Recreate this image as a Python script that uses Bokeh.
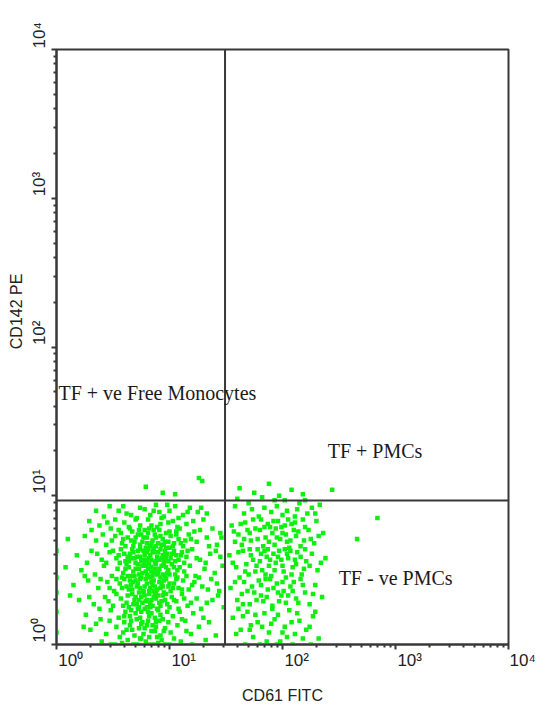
import math
from bokeh.plotting import figure
from bokeh.models import Range1d, FixedTicker, Span, Label, ColumnDataSource
from bokeh.embed import file_html
from bokeh.resources import INLINE

# ---------------- data (log10 of fluorescence) ----------------
x_label = "CD61 FITC"
y_label = "CD142 PE"
decades = [0, 1, 2, 3, 4]
tick_text = ["10\u2070", "10\u00b9", "10\u00b2", "10\u00b3", "10\u2074"]
gate_x = 31.0     # CD61 FITC gate
gate_y = 9.3      # CD142 PE gate
quadrant_names = ["TF + ve Free Monocytes", "TF + PMCs", "TF - ve PMCs"]
quadrant_pos = [(1.04, 49.0), (251.0, 19.9), (314.0, 2.78)]

# lower-left population (free monocytes, TF-negative)
lower_left = [
    (0.62,0.88),(0.78,0.91),(0.95,0.86),(1.05,0.93),(0.71,0.85),(0.88,0.94),(1.12,0.87),(0.55,0.90),(1.25,0.89),(0.83,0.87),(1.00,0.90),(0.42,0.86),(1.18,0.92),
    (0.48,0.78),(0.60,0.82),(0.67,0.76),(0.74,0.80),(0.81,0.84),(0.86,0.77),(0.92,0.81),(0.97,0.75),(1.03,0.83),(1.09,0.78),(1.15,0.81),(1.22,0.76),(1.30,0.84),
    (0.38,0.80),(0.70,0.84),(0.89,0.79),(0.99,0.82),(1.06,0.76),(0.78,0.77),(0.64,0.79),(1.38,0.78),(0.29,0.83),(0.93,0.85),(0.84,0.80),
    (0.35,0.70),(0.44,0.67),(0.52,0.73),(0.58,0.68),(0.63,0.72),(0.68,0.66),(0.72,0.74),(0.76,0.69),(0.80,0.72),(0.83,0.66),(0.87,0.74),(0.90,0.68),(0.94,0.71),
    (0.97,0.65),(1.01,0.73),(1.04,0.68),(1.08,0.71),(1.12,0.66),(1.17,0.74),(1.24,0.69),(1.33,0.72),(1.42,0.67),(0.25,0.73),(0.66,0.70),(0.74,0.67),(0.85,0.70),
    (0.92,0.73),(0.99,0.69),(1.06,0.74),(0.79,0.65),(0.88,0.66),(0.57,0.75),(1.14,0.70),(0.70,0.72),(0.95,0.67),(0.81,0.75),
    (0.18,0.60),(0.31,0.63),(0.40,0.57),(0.47,0.62),(0.53,0.58),(0.57,0.64),(0.61,0.56),(0.65,0.61),(0.69,0.58),(0.72,0.63),(0.75,0.56),(0.78,0.60),(0.81,0.64),
    (0.84,0.57),(0.86,0.62),(0.89,0.59),(0.92,0.64),(0.95,0.56),(0.98,0.61),(1.01,0.58),(1.04,0.63),(1.08,0.57),(1.11,0.62),(1.15,0.59),(1.20,0.64),(1.27,0.57),
    (1.36,0.61),(1.45,0.59),(0.63,0.59),(0.70,0.55),(0.77,0.63),(0.83,0.60),(0.88,0.56),(0.94,0.60),(1.00,0.65),(1.06,0.60),(0.74,0.59),(0.91,0.57),(0.80,0.57),
    (0.86,0.65),(0.97,0.58),(1.13,0.55),(0.67,0.64),(0.55,0.60),
    (0.22,0.50),(0.34,0.47),(0.42,0.53),(0.49,0.46),(0.54,0.51),(0.59,0.48),(0.62,0.54),(0.66,0.46),(0.70,0.51),(0.73,0.47),(0.76,0.53),(0.79,0.49),(0.82,0.54),
    (0.85,0.46),(0.87,0.51),(0.90,0.48),(0.93,0.53),(0.96,0.46),(0.99,0.50),(1.02,0.54),(1.05,0.47),(1.09,0.52),(1.13,0.49),(1.18,0.53),(1.23,0.46),(1.31,0.51),
    (1.40,0.48),(1.47,0.53),(0.68,0.49),(0.75,0.45),(0.81,0.51),(0.84,0.49),(0.88,0.54),(0.92,0.45),(0.97,0.52),(1.00,0.47),(0.64,0.52),(0.78,0.55),(0.86,0.48),
    (0.95,0.54),(0.72,0.54),(1.07,0.50),(0.58,0.45),(0.83,0.45),
    (0.15,0.40),(0.28,0.43),(0.37,0.38),(0.45,0.42),(0.51,0.36),(0.56,0.41),(0.60,0.44),(0.64,0.37),(0.68,0.42),(0.71,0.39),(0.74,0.44),(0.77,0.36),(0.80,0.41),
    (0.83,0.38),(0.86,0.43),(0.89,0.37),(0.91,0.42),(0.94,0.39),(0.97,0.44),(1.01,0.36),(1.04,0.41),(1.08,0.38),(1.12,0.43),(1.17,0.37),(1.22,0.42),(1.29,0.39),
    (1.37,0.44),(1.44,0.36),(0.66,0.40),(0.73,0.35),(0.79,0.44),(0.85,0.40),(0.88,0.35),(0.93,0.41),(0.99,0.39),(0.70,0.43),(0.82,0.36),(0.95,0.35),(0.62,0.39),
    (1.06,0.44),
    (0.20,0.30),(0.33,0.27),(0.43,0.32),(0.50,0.26),(0.57,0.31),(0.62,0.28),(0.67,0.34),(0.71,0.27),(0.75,0.32),(0.79,0.29),(0.82,0.34),(0.85,0.26),(0.88,0.31),
    (0.91,0.28),(0.94,0.33),(0.98,0.27),(1.02,0.32),(1.06,0.29),(1.11,0.34),(1.16,0.26),(1.24,0.31),(1.33,0.28),(1.43,0.33),(0.73,0.30),(0.80,0.25),(0.87,0.34),
    (0.96,0.30),(0.64,0.25),(0.84,0.30),(0.77,0.35),(0.69,0.30),(0.92,0.26),
    (0.26,0.20),(0.39,0.17),(0.48,0.23),(0.55,0.18),(0.61,0.22),(0.66,0.16),(0.70,0.21),(0.74,0.18),(0.78,0.24),(0.81,0.16),(0.84,0.21),(0.87,0.18),(0.90,0.23),
    (0.94,0.17),(0.98,0.22),(1.03,0.19),(1.08,0.24),(1.14,0.16),(1.21,0.21),(1.30,0.18),(0.76,0.15),(0.83,0.25),(0.72,0.24),(0.92,0.20),(0.60,0.15),(0.88,0.15),
    (0.30,0.10),(0.44,0.07),(0.53,0.12),(0.59,0.08),(0.65,0.13),(0.69,0.06),(0.73,0.11),(0.77,0.07),(0.80,0.13),(0.84,0.09),(0.88,0.12),(0.92,0.06),(0.96,0.11),
    (1.01,0.08),(1.07,0.13),(1.15,0.09),(1.26,0.12),(0.82,0.05),(0.75,0.14),(0.62,0.10),
    (0.40,0.02),(0.52,0.00),(0.63,0.03),(0.71,0.00),(0.79,0.02),(0.86,0.00),(0.93,0.03),(1.00,0.00),(1.10,0.02),(0.58,0.01),(0.74,0.04),(0.90,0.01),(1.20,0.00),
    (0.00,0.45),(0.00,0.22),(0.00,0.63),(0.00,0.08),(0.00,0.35),
    (0.08,0.52),(0.12,0.33),(0.10,0.71),(0.35,0.90),(0.47,0.93),(1.48,0.25),(1.46,0.72),(1.35,0.15),(1.41,0.06),(1.28,0.92),(0.24,0.12),
    (0.79,1.06),(1.26,1.12),(1.29,1.10),(0.94,1.02),(1.05,1.01),
]
lower_left_b = [
    (0.52,0.84),(0.66,0.87),(0.74,0.92),(0.91,0.89),(0.98,0.94),(1.08,0.85),(1.16,0.89),(1.33,0.88),(0.59,0.93),(0.86,0.90),(1.21,0.83),(0.45,0.82),
    (0.41,0.74),(0.49,0.70),(0.55,0.77),(0.61,0.66),(0.65,0.78),(0.69,0.69),(0.73,0.77),(0.77,0.72),(0.82,0.78),(0.84,0.68),(0.88,0.72),(0.91,0.77),(0.96,0.69),
    (1.00,0.76),(1.03,0.66),(1.07,0.79),(1.10,0.68),(1.19,0.71),(1.27,0.77),(1.35,0.66),(1.45,0.75),(0.31,0.77),(0.59,0.71),(0.80,0.68),(0.93,0.67),(0.75,0.74),
    (0.27,0.55),(0.36,0.61),(0.44,0.55),(0.50,0.63),(0.56,0.55),(0.60,0.61),(0.64,0.56),(0.68,0.62),(0.71,0.59),(0.74,0.64),(0.77,0.57),(0.80,0.62),(0.82,0.58),
    (0.85,0.63),(0.87,0.55),(0.90,0.62),(0.93,0.58),(0.96,0.63),(0.99,0.56),(1.02,0.61),(1.05,0.56),(1.10,0.60),(1.16,0.63),(1.24,0.58),(1.32,0.55),(1.41,0.63),
    (0.66,0.58),(0.79,0.53),(0.84,0.52),(0.91,0.51),(0.73,0.51),(0.96,0.59),(0.61,0.51),(1.04,0.52),
    (0.25,0.46),(0.39,0.44),(0.47,0.38),(0.53,0.44),(0.58,0.38),(0.63,0.46),(0.67,0.37),(0.69,0.46),(0.72,0.41),(0.76,0.48),(0.78,0.39),(0.81,0.46),(0.84,0.42),
    (0.87,0.39),(0.89,0.47),(0.92,0.38),(0.95,0.43),(0.98,0.48),(1.00,0.41),(1.03,0.38),(1.07,0.45),(1.11,0.37),(1.15,0.46),(1.20,0.40),(1.26,0.45),(1.34,0.37),
    (1.42,0.41),(0.74,0.38),(0.86,0.36),(0.80,0.47),(0.65,0.43),(0.94,0.47),
    (0.29,0.32),(0.38,0.24),(0.46,0.29),(0.53,0.34),(0.59,0.26),(0.63,0.33),(0.66,0.23),(0.70,0.32),(0.73,0.25),(0.76,0.28),(0.78,0.33),(0.81,0.22),(0.83,0.28),
    (0.86,0.32),(0.89,0.24),(0.93,0.29),(0.97,0.34),(1.00,0.25),(1.04,0.30),(1.09,0.22),(1.13,0.31),(1.19,0.28),(1.28,0.24),(1.38,0.30),(0.68,0.27),(0.90,0.33),
    (0.80,0.30),(0.75,0.22),
    (0.35,0.14),(0.47,0.16),(0.56,0.05),(0.60,0.19),(0.67,0.10),(0.71,0.17),(0.75,0.04),(0.78,0.11),(0.82,0.19),(0.85,0.13),(0.89,0.05),(0.91,0.16),(0.95,0.09),
    (0.99,0.15),(1.04,0.04),(1.11,0.17),(1.19,0.07),(1.32,0.03),(0.68,0.00),(0.82,0.00),(0.96,0.00),(0.48,0.00),(0.65,0.19),(0.87,0.09),
]

# lower-right population (platelet-monocyte complexes)
lower_right = [
    (1.62,1.05),(1.75,1.02),(1.88,1.08),(1.97,1.00),(2.08,1.04),(2.18,1.01),(1.70,0.95),(1.84,0.92),(1.93,0.97),(2.04,0.90),(2.15,0.95),(2.26,0.92),(1.66,0.88),
    (1.79,0.86),(2.00,0.87),(2.22,0.88),(1.58,0.93),(1.90,0.89),(2.11,0.86),(2.33,0.94),
    (1.55,0.80),(1.61,0.74),(1.67,0.82),(1.72,0.70),(1.76,0.78),(1.81,0.84),(1.85,0.72),(1.89,0.79),(1.93,0.67),(1.96,0.83),(2.00,0.75),(2.04,0.69),(2.08,0.81),
    (2.12,0.73),(2.16,0.66),(2.20,0.79),(2.25,0.71),(2.30,0.83),(2.36,0.75),(1.64,0.67),(1.83,0.66),(1.98,0.71),(2.10,0.77),(1.74,0.84),(1.91,0.75),(2.06,0.65),
    (2.18,0.84),(1.69,0.77),(1.87,0.81),(2.02,0.80),(2.28,0.68),(1.58,0.69),
    (1.53,0.60),(1.59,0.52),(1.65,0.63),(1.70,0.47),(1.74,0.57),(1.78,0.64),(1.82,0.50),(1.86,0.59),(1.90,0.46),(1.94,0.55),(1.97,0.63),(2.01,0.49),(2.05,0.58),
    (2.09,0.52),(2.13,0.62),(2.17,0.47),(2.21,0.56),(2.26,0.61),(2.31,0.50),(2.38,0.58),(1.68,0.54),(1.80,0.56),(1.92,0.61),(2.03,0.45),(2.11,0.57),(1.76,0.49),
    (1.88,0.53),(1.99,0.57),(2.07,0.63),(2.19,0.51),(1.62,0.45),(1.84,0.63),
    (1.54,0.38),(1.60,0.30),(1.66,0.42),(1.71,0.27),(1.75,0.35),(1.79,0.43),(1.83,0.29),(1.87,0.37),(1.91,0.26),(1.95,0.41),(1.99,0.33),(2.03,0.28),(2.07,0.39),
    (2.12,0.31),(2.16,0.44),(2.20,0.35),(2.24,0.27),(2.29,0.40),(2.35,0.32),(1.73,0.39),(1.89,0.44),(2.01,0.36),(1.81,0.33),(1.97,0.29),(2.10,0.42),(1.64,0.34),
    (1.56,0.18),(1.63,0.10),(1.69,0.22),(1.74,0.05),(1.78,0.15),(1.84,0.21),(1.88,0.08),(1.93,0.17),(1.98,0.02),(2.02,0.12),(2.06,0.23),(2.11,0.07),(2.15,0.16),
    (2.21,0.10),(2.27,0.19),(2.32,0.04),(1.67,0.00),(1.80,0.00),(1.95,0.00),(2.09,0.00),(2.25,0.00),(1.72,0.13),(1.91,0.24),(2.04,0.05),
    (2.84,0.85),(2.66,0.71),(2.44,1.04),
]
lower_right_b = [
    (1.60,0.98),(1.73,0.91),(1.82,0.99),(1.95,0.93),(2.02,0.97),(2.13,0.91),(2.20,0.97),(2.29,0.88),
    (1.57,0.76),(1.63,0.81),(1.71,0.75),(1.78,0.71),(1.84,0.79),(1.88,0.69),(1.92,0.83),(1.95,0.72),(1.99,0.79),(2.03,0.74),(2.07,0.70),(2.11,0.82),(2.14,0.76),
    (2.19,0.70),(2.23,0.77),(2.32,0.73),(1.66,0.71),(1.80,0.77),(1.94,0.78),(2.05,0.84),
    (1.56,0.55),(1.61,0.62),(1.67,0.49),(1.72,0.60),(1.77,0.53),(1.81,0.61),(1.85,0.47),(1.89,0.57),(1.93,0.50),(1.96,0.59),(2.00,0.53),(2.04,0.61),(2.08,0.47),
    (2.12,0.54),(2.16,0.59),(2.20,0.64),(2.24,0.53),(2.34,0.55),(1.71,0.64),(1.87,0.64),(2.02,0.64),
    (1.58,0.42),(1.65,0.27),(1.69,0.36),(1.77,0.30),(1.81,0.40),(1.86,0.32),(1.92,0.38),(1.96,0.35),(2.00,0.42),(2.05,0.33),(2.09,0.36),(2.14,0.28),(2.18,0.40),
    (2.27,0.34),(1.85,0.44),
    (1.59,0.07),(1.65,0.19),(1.71,0.10),(1.76,0.20),(1.82,0.12),(1.86,0.02),(1.90,0.14),(1.96,0.20),(2.00,0.08),(2.08,0.15),(2.13,0.21),(2.18,0.04),(2.24,0.12),
    (1.61,0.24),(2.29,0.22),
]

# ---------------- figure ----------------
FRAME_W, FRAME_H = 452, 595
p = figure(
    width=537, height=709, frame_width=FRAME_W, frame_height=FRAME_H,
    x_axis_type="log", y_axis_type="log",
    x_range=Range1d(1, 10000), y_range=Range1d(1, 10000),
    output_backend="svg", toolbar_location=None,
    min_border_left=56, min_border_right=29, min_border_top=49, min_border_bottom=65,
)
p.background_fill_color = "white"
p.border_fill_color = "white"
p.outline_line_color = "#383838"
p.outline_line_width = 2
p.grid.visible = False

# Tick labels start at their tick in the reference: a leading run of figure spaces
# (same width as the label) moves the visible part of each centred label past its tick.
PAD = "\u2007" * 3
major = [10 ** d for d in decades]
minor = [m * 10 ** d for d in decades[:-1] for m in range(2, 10)]
for ax in (p.xaxis[0], p.yaxis[0]):
    ax.ticker = FixedTicker(ticks=major, minor_ticks=minor)
    ax.axis_line_color = "#383838"
    ax.axis_line_width = 2
    ax.major_tick_line_color = "#383838"
    ax.minor_tick_line_color = "#383838"
    ax.major_tick_line_width = 2
    ax.minor_tick_line_width = 2
    ax.major_tick_out = 5
    ax.major_tick_in = 0
    ax.minor_tick_out = 3
    ax.minor_tick_in = 0
    ax.major_label_overrides = {v: PAD + t for v, t in zip(major, tick_text)}
    ax.major_label_text_font = "Liberation Sans"
    ax.major_label_text_font_size = "17px"
    ax.major_label_text_color = "#222222"
    ax.axis_label_text_font = "Liberation Sans"
    ax.axis_label_text_font_size = "16px"
    ax.axis_label_text_font_style = "normal"
    ax.axis_label_text_color = "#222222"

p.xaxis.major_label_standoff = 1
p.yaxis.major_label_standoff = 3
p.yaxis.major_label_orientation = "parallel"
p.xaxis.axis_label = x_label
p.xaxis.axis_label_standoff = 14
p.yaxis.axis_label = "\u2007" * 8 + y_label
p.yaxis.axis_label_standoff = 2

# scatter
pts = lower_left + lower_left_b + lower_right + lower_right_b
src = ColumnDataSource(dict(x=[10 ** a for a, b in pts], y=[10 ** b for a, b in pts]))
p.scatter("x", "y", source=src, marker="square", size=4.5, color="#10f010", alpha=1.0, line_width=0)

# quadrant gates
p.add_layout(Span(location=gate_x, dimension="height", line_color="#383838", line_width=2))
p.add_layout(Span(location=gate_y, dimension="width", line_color="#383838", line_width=2))

# quadrant labels
for name, (qx, qy) in zip(quadrant_names, quadrant_pos):
    p.add_layout(Label(x=qx, y=qy, text=name, text_font="Liberation Serif",
                       text_font_size="20px", text_color="#1a1a1a",
                       text_align="left", text_baseline="middle"))

open("out.html", "w").write(file_html(p, INLINE))
